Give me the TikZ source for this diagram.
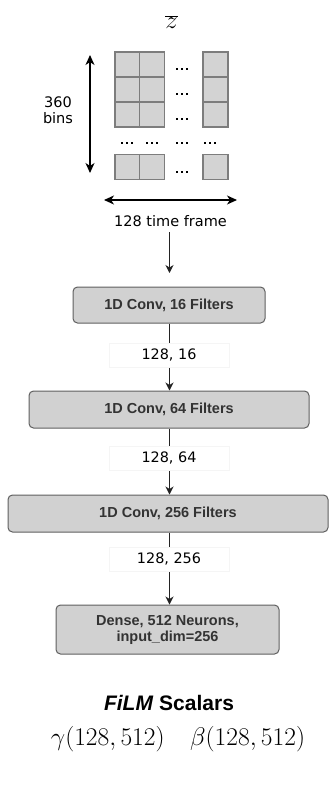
\RequirePackage{fix-cm}
\documentclass[tikz,border=0pt]{standalone}
\usepackage{fontspec}
\newfontfamily\lblfont{DejaVu Sans}
\newfontfamily\bxfont{Liberation Sans}
\usetikzlibrary{arrows.meta}
\definecolor{cellfill}{RGB}{211,211,211}
\definecolor{celldraw}{RGB}{125,125,125}
\definecolor{boxfill}{RGB}{209,209,209}
\definecolor{boxdraw}{RGB}{95,95,95}
\definecolor{txtdark}{RGB}{51,51,51}
\definecolor{linecol}{RGB}{35,35,35}
\tikzset{
  cell/.style={draw=celldraw, fill=cellfill, line width=1.2pt, minimum width=25pt, minimum height=25pt, inner sep=0pt},
  cbox/.style={draw=boxdraw, fill=boxfill, line width=1pt, rounded corners=4.5pt, inner sep=0pt,
     font=\bxfont\bfseries\fontsize{14.5}{16}\selectfont, text=txtdark, align=center},
  lbl/.style={fill=white, draw=black!4, minimum width=120pt, minimum height=24pt, inner sep=0pt,
     font=\lblfont\fontsize{14.4}{17}\selectfont},
  arr/.style={draw=linecol, line width=1.1pt, -{Stealth[length=8pt,width=8pt,inset=2.5pt]}},
  dbl/.style={draw=black, line width=1.1pt, {Stealth[length=10pt,width=9pt,inset=3pt]}-{Stealth[length=10pt,width=9pt,inset=3pt]}},
  plain/.style={font=\lblfont\fontsize{14.5}{16.5}\selectfont, inner sep=0pt}
}
\newcommand{\dotgrp}[2]{%
  \foreach \dx in {-5,0,5} {\fill[black] ({#1+\dx-1.3},{#2-1.3}) rectangle ({#1+\dx+1.3},{#2+1.3});}}
\begin{document}
\begin{tikzpicture}[x=1pt,y=-1pt]
\useasboundingbox (0,0) rectangle (329,785);
% title
\node[anchor=base, inner sep=0pt, font=\fontsize{25}{29}\selectfont] (zbar) at (171.5,28.5) {$\overline{z}$};
% grid cells
\foreach \r/\y in {1/64.5,2/89.5,3/114.5,4/167} {
  \node[cell] (c\r a) at (127.5,\y) {};
  \node[cell] (c\r b) at (152,\y) {};
  \node[cell] (c\r c) at (215.5,\y) {};
}
% dots
\dotgrp{182}{69}
\dotgrp{182}{94}
\dotgrp{182}{119}
\dotgrp{182}{172}
\dotgrp{127}{143}
\dotgrp{152}{143}
\dotgrp{182}{143}
\dotgrp{210}{143}
% dimension arrows
\coordinate (vtop) at (90,55);
\coordinate (vbot) at (90,173);
\draw[dbl] (vtop) -- (vbot);
\node[plain, align=center] (bins) at (58,110) {360\\bins};
\coordinate (hl) at (104,200);
\coordinate (hr) at (237,200);
\draw[dbl] (hl) -- (hr);
\node[plain, anchor=base] (tf) at (170.5,226) {128 time frame};
% first arrow
\coordinate (a0) at (169.5,232);
\coordinate (a1) at (169.5,273);
\draw[arr] (a0) -- (a1);
% boxes
\node[cbox, minimum width=192pt, minimum height=36pt] (b1) at (169,305) {1D Conv, 16 Filters};
\node[cbox, minimum width=280pt, minimum height=37pt] (b2) at (169,409.5) {1D Conv, 64 Filters};
\node[cbox, minimum width=320pt, minimum height=37pt] (b3) at (168,513.5) {1D Conv, 256 Filters};
\node[cbox, minimum width=223pt, minimum height=49pt] (b4) at (167.5,629.5) {Dense, 512 Neurons,\\input\_dim=256};
% connectors
\draw[arr] (b1.south -| 169.5,0) -- (b2.north -| 169.5,0);
\draw[arr] (b2.south -| 169.5,0) -- (b3.north -| 169.5,0);
\draw[arr] (b3.south -| 169.5,0) -- (b4.north -| 169.5,0);
\node[lbl] (l1) at (169,355) {128, 16};
\node[lbl] (l2) at (169,458) {128, 64};
\node[lbl] (l3) at (169,559) {128, 256};
% bottom texts
\node[inner sep=0pt, font=\bxfont\bfseries\fontsize{21}{25}\selectfont] (film) at (169,703) {\textit{FiLM} Scalars};
\node[anchor=base, inner sep=0pt, font=\fontsize{25.5}{29}\selectfont] (gb) at (178,745) {$\gamma(128,512)\quad\beta(128,512)$};
\end{tikzpicture}
\end{document}
